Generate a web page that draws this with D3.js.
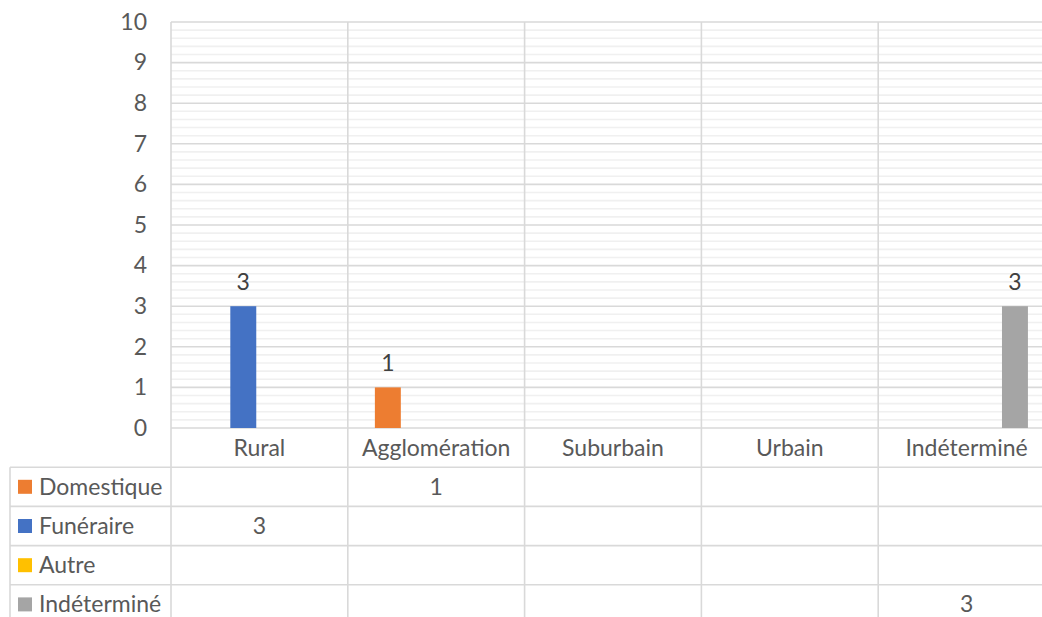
<!DOCTYPE html>
<html>
<head>
<meta charset="utf-8">
<script src="https://cdn.jsdelivr.net/npm/d3@7"></script>
<style>
  html, body { margin: 0; padding: 0; background: #fff; }
  svg { display: block; }
  text { font-family: Lato, "Liberation Sans", sans-serif; }
</style>
</head>
<body>
<svg id="chart" width="1042" height="617"></svg>
<script>
// Categories (x axis) and series
const categories = ["Rural", "Agglomération", "Suburbain", "Urbain", "Indéterminé"];
const seriesNames = ["Domestique", "Funéraire", "Autre", "Indéterminé"];
const seriesColors = ["#ED7D31", "#4472C4", "#FFC000", "#A5A5A5"];

// Values per series, one entry per category (null = empty cell)
const domestique = [null, 1, null, null, null];
const funeraire = [3, null, null, null, null];
const autre = [null, null, null, null, null];
const indetermine = [null, null, null, null, 3];

const yTicks = [0, 1, 2, 3, 4, 5, 6, 7, 8, 9, 10];

const seriesValues = [domestique, funeraire, autre, indetermine];

const svg = d3.select("#chart");

const plotLeft = 171, plotRight = 1055, plotTop = 22, plotBottom = 428;
const rowH = 39.2;
const tableLeft = 10;

const x = d3.scaleBand().domain(categories).range([plotLeft, plotRight]).padding(0);
const xs = d3.scaleBand().domain(seriesNames).range([0, x.bandwidth()])
  .paddingInner(0.195).paddingOuter(0.84);
const y = d3.scaleLinear().domain([0, 10]).range([plotBottom, plotTop]);

const gridColor = "#d9d9d9";
const minorColor = "#f0f0f0";
const textColor = "#595959";

// Minor horizontal gridlines every 0.2
const minorTicks = d3.range(0, 10.0001, 0.2).filter(v => Math.abs(v - Math.round(v)) > 1e-6);
svg.append("g").selectAll("line").data(minorTicks).join("line")
  .attr("x1", plotLeft).attr("x2", plotRight)
  .attr("y1", d => y(d)).attr("y2", d => y(d))
  .attr("stroke", minorColor).attr("stroke-width", 1.6);

// Major horizontal gridlines
svg.append("g").selectAll("line").data(yTicks).join("line")
  .attr("x1", plotLeft).attr("x2", plotRight)
  .attr("y1", d => y(d)).attr("y2", d => y(d))
  .attr("stroke", gridColor).attr("stroke-width", 1.6);

// Y axis labels
const yAxis = d3.axisLeft(y).tickValues(yTicks).tickSize(0).tickPadding(24);
const yg = svg.append("g").attr("transform", `translate(${plotLeft},0)`).call(yAxis);
yg.select(".domain").remove();
yg.selectAll("text").attr("fill", textColor).style("font-size", "23px")
  .style("font-family", "Lato, 'Liberation Sans', sans-serif");

// Category boundary lines through the plot and the data table
const tableBottom = plotBottom + rowH * 5;
const bounds = categories.map(c => x(c)).concat([plotRight]);
svg.append("g").selectAll("line").data(bounds).join("line")
  .attr("x1", d => d).attr("x2", d => d)
  .attr("y1", plotTop).attr("y2", tableBottom)
  .attr("stroke", gridColor).attr("stroke-width", 1.6);

// Table horizontal lines
const rowLines = d3.range(1, 6).map(i => plotBottom + rowH * i);
svg.append("g").selectAll("line").data(rowLines).join("line")
  .attr("x1", tableLeft).attr("x2", plotRight)
  .attr("y1", d => d).attr("y2", d => d)
  .attr("stroke", gridColor).attr("stroke-width", 1.6);
svg.append("line")
  .attr("x1", tableLeft).attr("x2", tableLeft)
  .attr("y1", plotBottom + rowH).attr("y2", tableBottom)
  .attr("stroke", gridColor).attr("stroke-width", 1.6);

// Bars
const barData = [];
seriesValues.forEach((vals, si) => {
  vals.forEach((v, ci) => {
    if (v !== null) barData.push({ s: seriesNames[si], color: seriesColors[si], c: categories[ci], v });
  });
});
svg.append("g").selectAll("rect").data(barData).join("rect")
  .attr("x", d => x(d.c) + xs(d.s))
  .attr("width", xs.bandwidth())
  .attr("y", d => y(d.v))
  .attr("height", d => y(0) - y(d.v))
  .attr("fill", d => d.color);

// Data labels above bars
svg.append("g").selectAll("text").data(barData).join("text")
  .attr("x", d => x(d.c) + xs(d.s) + xs.bandwidth() / 2)
  .attr("y", d => y(d.v) - 16)
  .attr("text-anchor", "middle")
  .attr("fill", "#404040")
  .style("font-size", "23px")
  .text(d => d.v);

// Category header row
svg.append("g").selectAll("text").data(categories).join("text")
  .attr("x", d => x(d) + x.bandwidth() / 2)
  .attr("y", plotBottom + rowH / 2)
  .attr("dy", "0.35em")
  .attr("text-anchor", "middle")
  .attr("fill", textColor)
  .style("font-size", "23px")
  .text(d => d);

// Table rows: legend key + series name, then values
seriesNames.forEach((name, si) => {
  const cy = plotBottom + rowH * (si + 1) + rowH / 2;
  svg.append("rect")
    .attr("x", 18).attr("y", cy - 7)
    .attr("width", 14).attr("height", 14)
    .attr("fill", seriesColors[si]);
  svg.append("text")
    .attr("x", 39).attr("y", cy)
    .attr("dy", "0.35em")
    .attr("fill", textColor)
    .style("font-size", "23px")
    .text(name);
  svg.append("g").selectAll("text")
    .data(seriesValues[si].map((v, ci) => ({ v, c: categories[ci] })).filter(d => d.v !== null))
    .join("text")
    .attr("x", d => x(d.c) + x.bandwidth() / 2)
    .attr("y", cy)
    .attr("dy", "0.35em")
    .attr("text-anchor", "middle")
    .attr("fill", textColor)
    .style("font-size", "23px")
    .text(d => d.v);
});
</script>
</body>
</html>
